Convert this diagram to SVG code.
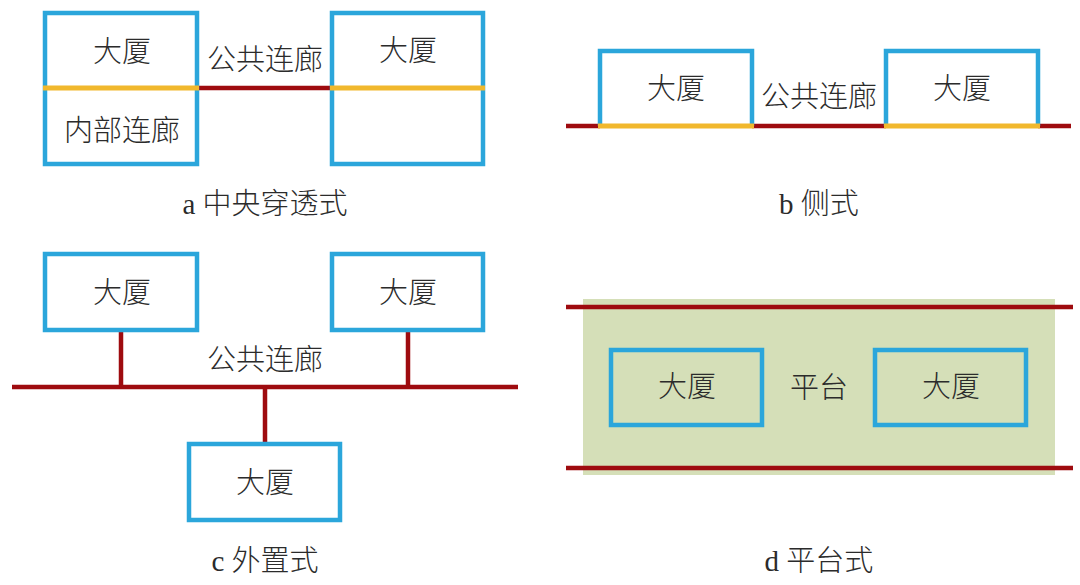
<svg xmlns="http://www.w3.org/2000/svg" width="1080" height="585" viewBox="0 0 1080 585">
<style>
.b{fill:none;stroke:#2ba6db;stroke-width:4.5}
.y{stroke:#f1b82d;stroke-width:5;fill:none}
.r{stroke:#9e0b0f;stroke-width:4.5;fill:none}
text{font-family:"Noto Sans CJK SC","Noto Sans CJK JP",sans-serif;font-size:29px;fill:#2b2b2b;text-anchor:middle;font-weight:300}
.c{font-family:"Liberation Serif","Noto Sans CJK SC",serif;font-size:29px}
</style>
<rect x="583" y="299" width="472" height="176" fill="#d5dfb8"/>
<g id="connectors">
<line class="r" x1="198" y1="88" x2="332" y2="88"/>
<line class="r" x1="566" y1="126" x2="600" y2="126"/>
<line class="r" x1="752" y1="126" x2="886" y2="126"/>
<line class="r" x1="1038" y1="126" x2="1071" y2="126"/>
<line class="r" x1="12" y1="387" x2="518" y2="387"/>
<line class="r" x1="121" y1="330" x2="121" y2="387"/>
<line class="r" x1="408" y1="330" x2="408" y2="387"/>
<line class="r" x1="265" y1="387" x2="265" y2="444"/>
<line class="r" x1="566" y1="307" x2="1073" y2="307"/>
<line class="r" x1="566" y1="468" x2="1073" y2="468"/>
</g>
<g id="a1"><rect class="b" x="45" y="13" width="152" height="151"/><line class="y" x1="43" y1="88" x2="199" y2="88"/><text x="122" y="62">大厦</text><text x="122" y="141">内部连廊</text></g>
<g id="a2"><rect class="b" x="332" y="13" width="151" height="151"/><line class="y" x1="330" y1="88" x2="485" y2="88"/><text x="408" y="61">大厦</text></g>
<text x="265" y="70">公共连廊</text>
<text class="c" x="265" y="214">a 中央穿透式</text>
<g id="b1"><path class="b" d="M600 126V51H752V126"/><line class="y" x1="598" y1="126" x2="754" y2="126"/><text x="676" y="99">大厦</text></g>
<g id="b2"><path class="b" d="M886 126V51H1038V126"/><line class="y" x1="884" y1="126" x2="1040" y2="126"/><text x="962" y="99">大厦</text></g>
<text x="819" y="107">公共连廊</text>
<text class="c" x="819" y="214">b 侧式</text>
<g id="c1"><rect class="b" x="45" y="254" width="152" height="76"/><text x="122" y="303">大厦</text></g>
<g id="c2"><rect class="b" x="332" y="254" width="151" height="76"/><text x="408" y="303">大厦</text></g>
<g id="c3"><rect class="b" x="189" y="444" width="151" height="76"/><text x="265" y="493">大厦</text></g>
<text x="265" y="370">公共连廊</text>
<text class="c" x="265" y="571">c 外置式</text>
<g id="d1"><rect class="b" x="611" y="350" width="151" height="75"/><text x="687" y="397">大厦</text></g>
<g id="d2"><rect class="b" x="875" y="350" width="151" height="75"/><text x="951" y="397">大厦</text></g>
<text x="819" y="398">平台</text>
<text class="c" x="819" y="571">d 平台式</text>
</svg>
